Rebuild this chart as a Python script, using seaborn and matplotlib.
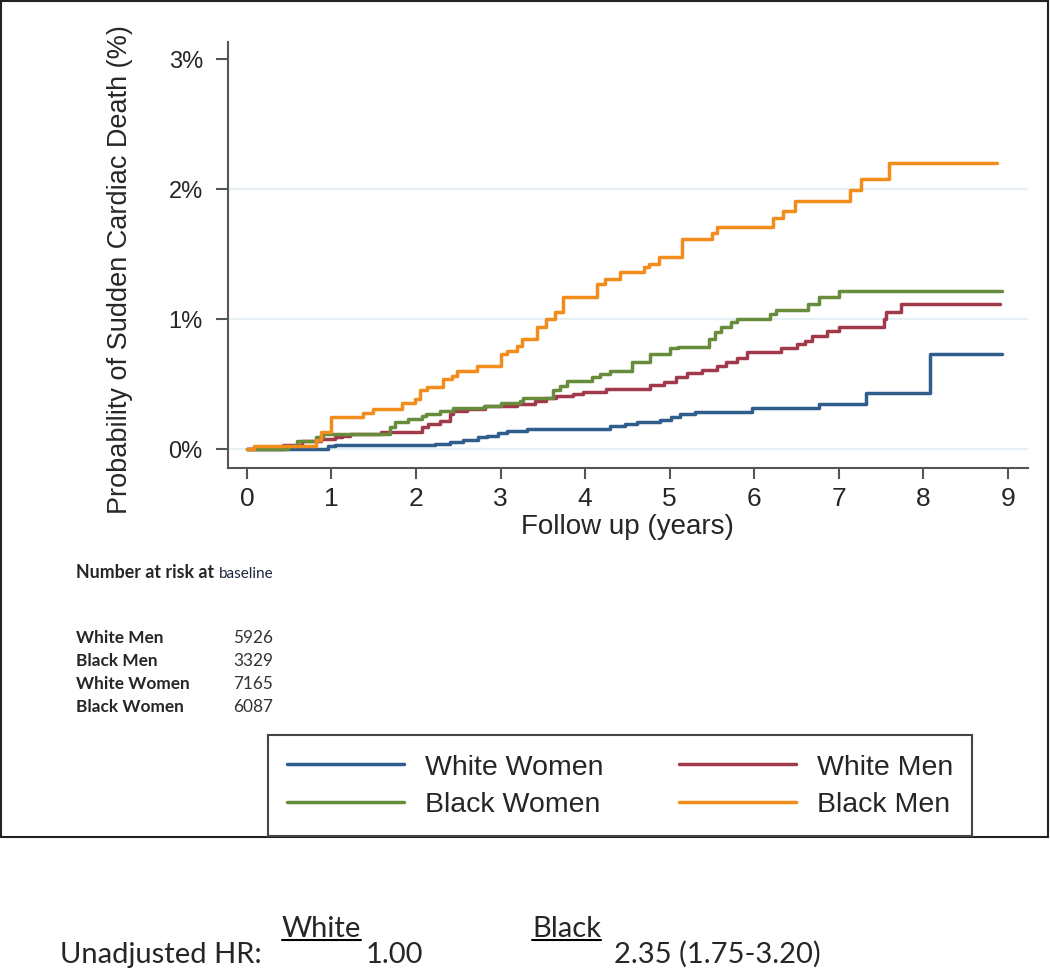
import pandas as pd
import matplotlib.pyplot as plt
import seaborn as sns
from matplotlib.patches import Rectangle
from matplotlib.lines import Line2D

# Curvas de incidencia acumulada (%), por grupo
ww_t = [0, 0.96, 1.04, 2.22, 2.4, 2.56, 2.73, 2.84, 2.97, 3.07, 3.31, 4.29, 4.47, 4.61, 4.88, 5.02, 5.12, 5.3, 5.97, 6.76, 7.32, 8.08, 8.93]
ww_p = [0, 0.02, 0.03, 0.038, 0.05, 0.069, 0.09, 0.1, 0.12, 0.14, 0.155, 0.174, 0.19, 0.205, 0.226, 0.245, 0.27, 0.287, 0.313, 0.346, 0.43, 0.73, 0.73]

wm_t = [0, 0.43, 0.65, 0.88, 1.04, 1.12, 1.22, 1.59, 2.07, 2.14, 2.28, 2.4, 2.44, 2.6, 2.82, 3.19, 3.41, 3.54, 3.66, 3.86, 3.98, 4.25, 4.77, 4.93, 5.08, 5.2, 5.38, 5.56, 5.67, 5.79, 5.91, 6.32, 6.5, 6.6, 6.68, 6.86, 7.0, 7.53, 7.56, 7.74, 8.91]
wm_p = [0, 0.03, 0.064, 0.077, 0.09, 0.1, 0.115, 0.128, 0.167, 0.19, 0.218, 0.27, 0.295, 0.31, 0.333, 0.346, 0.372, 0.39, 0.41, 0.423, 0.436, 0.46, 0.49, 0.518, 0.551, 0.585, 0.61, 0.641, 0.667, 0.697, 0.744, 0.774, 0.808, 0.833, 0.872, 0.91, 0.936, 1.0, 1.05, 1.115, 1.115]

bw_t = [0, 0.49, 0.59, 0.82, 0.9, 1.69, 1.75, 1.9, 2.07, 2.12, 2.28, 2.44, 2.8, 3.01, 3.23, 3.27, 3.62, 3.7, 3.78, 4.08, 4.17, 4.29, 4.55, 4.77, 5.0, 5.1, 5.47, 5.53, 5.61, 5.73, 5.79, 6.19, 6.26, 6.64, 6.76, 7.0, 8.93]
bw_p = [0, 0.02, 0.064, 0.09, 0.115, 0.167, 0.21, 0.23, 0.256, 0.27, 0.295, 0.313, 0.328, 0.354, 0.37, 0.39, 0.45, 0.487, 0.525, 0.55, 0.577, 0.6, 0.667, 0.73, 0.774, 0.787, 0.846, 0.9, 0.936, 0.974, 1.0, 1.04, 1.07, 1.115, 1.167, 1.218, 1.218]

bm_t = [0, 0.09, 0.82, 0.88, 1.0, 1.37, 1.49, 1.83, 1.99, 2.05, 2.13, 2.32, 2.42, 2.48, 2.72, 3.01, 3.07, 3.19, 3.25, 3.43, 3.54, 3.64, 3.74, 4.14, 4.24, 4.41, 4.69, 4.75, 4.87, 5.15, 5.5, 5.56, 6.22, 6.34, 6.48, 7.13, 7.26, 7.59, 8.87]
bm_p = [0, 0.02, 0.07, 0.13, 0.244, 0.28, 0.31, 0.35, 0.385, 0.45, 0.477, 0.54, 0.56, 0.6, 0.64, 0.73, 0.756, 0.795, 0.846, 0.94, 1.0, 1.05, 1.17, 1.27, 1.31, 1.36, 1.40, 1.42, 1.48, 1.615, 1.66, 1.71, 1.777, 1.83, 1.905, 1.99, 2.08, 2.2, 2.2]

groups = ['White Women', 'White Men', 'Black Women', 'Black Men']
colores = ['#2f5d8c', '#a03a4a', '#668c3c', '#f28c1c']

# Numero en riesgo al inicio
risk_groups = ['White Men', 'Black Men', 'White Women', 'Black Women']
risk_n = [5926, 3329, 7165, 6087]

# Hazard ratios
hr_label = 'Unadjusted HR:'
hr_white = '1.00'
hr_black = '2.35 (1.75-3.20)'

y_ticks = [0, 1, 2, 3]
x_ticks = list(range(10))

frames = []
for g, t, p in zip(groups, [ww_t, wm_t, bw_t, bm_t], [ww_p, wm_p, bw_p, bm_p]):
    frames.append(pd.DataFrame({'t': t, 'p': p, 'grupo': g}))
df = pd.concat(frames, ignore_index=True)

sns.set_style('white')
plt.rcParams['font.family'] = ['Liberation Sans', 'DejaVu Sans']
lato = ['Lato', 'DejaVu Sans']

fig = plt.figure(figsize=(10.5, 9.79), dpi=100)
ax = fig.add_axes([0.217, 0.521, 0.762, 0.435])

for yv in [0, 1, 2]:
    ax.axhline(yv, color='#e6eff4', lw=1.6, zorder=0)

sns.lineplot(data=df, x='t', y='p', hue='grupo', hue_order=groups,
             palette=colores, drawstyle='steps-post', estimator=None,
             lw=2.5, ax=ax)

ax.set_xlim(-0.225, 9.236)
ax.set_ylim(-0.146, 3.13)
ax.set_xticks(x_ticks)
ax.set_yticks(y_ticks)
ax.set_yticklabels([f'{v}%' for v in y_ticks])
ax.tick_params(axis='x', labelsize=19, length=8, width=1.5, color='#555555', pad=5, direction='out', bottom=True)
ax.tick_params(axis='y', labelsize=17, length=9, width=1.5, color='#555555', pad=9, direction='out', left=True)
for s in ['top', 'right']:
    ax.spines[s].set_visible(False)
for s in ['left', 'bottom']:
    ax.spines[s].set_color('#555555')
    ax.spines[s].set_linewidth(1.5)

ax.set_xlabel('Follow up (years)', fontsize=20)
ax.set_ylabel('Probability of Sudden Cardiac Death (%)', fontsize=19.5)
ax.xaxis.set_label_coords(0.5, -0.105)
ax.yaxis.set_label_coords(-0.118, 0.467)

# Leyenda en dos columnas, abajo
handles, labels = ax.get_legend_handles_labels()
ax.get_legend().remove()
orden = [0, 2, 1, 3]
leg = fig.legend([handles[i] for i in orden], [labels[i] for i in orden],
                 ncol=2, loc='upper left', bbox_to_anchor=(268 / 1050, 1 - 736 / 979),
                 borderaxespad=0, fontsize=20.5, handlelength=4.1, handletextpad=0.75,
                 columnspacing=2.65, labelspacing=0.41, borderpad=0.66,
                 fancybox=False, framealpha=1)
leg.get_frame().set_edgecolor('#444444')
leg.get_frame().set_linewidth(1.5)
for h in leg.get_lines():
    h.set_linewidth(2.5)

# Borde exterior
fig.patches.append(Rectangle((0.001, 1 - 838 / 979), 0.997, 838 / 979 - 0.002,
                             transform=fig.transFigure, fill=False,
                             edgecolor='#222222', lw=1.5))

# Tabla de numero en riesgo
fig.text(76 / 1050, 1 - 578 / 979, 'Number at risk at', family=lato,
         fontsize=12.8, fontweight='bold', va='baseline')
fig.text(219 / 1050, 1 - 578 / 979, 'baseline', family=lato,
         fontsize=11, color='#1c2540', va='baseline')
for i, (g, n) in enumerate(zip(risk_groups, risk_n)):
    yb = 1 - (643 + i * 23) / 979
    fig.text(76 / 1050, yb, g, family=lato, fontsize=12.4,
             fontweight='bold', va='baseline')
    fig.text(233 / 1050, yb, str(n), family=lato, fontsize=12.4,
             color='#333333', va='baseline')

# Hazard ratios
t_white = fig.text(282 / 1050, 1 - 937 / 979, 'White', family=lato, fontsize=21, va='baseline')
t_black = fig.text(532 / 1050, 1 - 937 / 979, 'Black', family=lato, fontsize=21, va='baseline')
fig.text(60 / 1050, 1 - 963 / 979, hr_label, family=lato, fontsize=21, va='baseline')
fig.text(366 / 1050, 1 - 963 / 979, hr_white, family=lato, fontsize=21, va='baseline')
fig.text(614 / 1050, 1 - 963 / 979, hr_black, family=lato, fontsize=21, va='baseline')

# Subrayado de White / Black
fig.canvas.draw()
r = fig.canvas.get_renderer()
inv = fig.transFigure.inverted()
for t in [t_white, t_black]:
    bb = t.get_window_extent(r)
    x0, _ = inv.transform((bb.x0, bb.y0))
    x1, _ = inv.transform((bb.x1, bb.y0))
    yl = 1 - 941 / 979
    fig.lines.append(Line2D([x0, x1], [yl, yl], transform=fig.transFigure, color='black', lw=1.5))

fig.savefig('out.png', dpi=100)
